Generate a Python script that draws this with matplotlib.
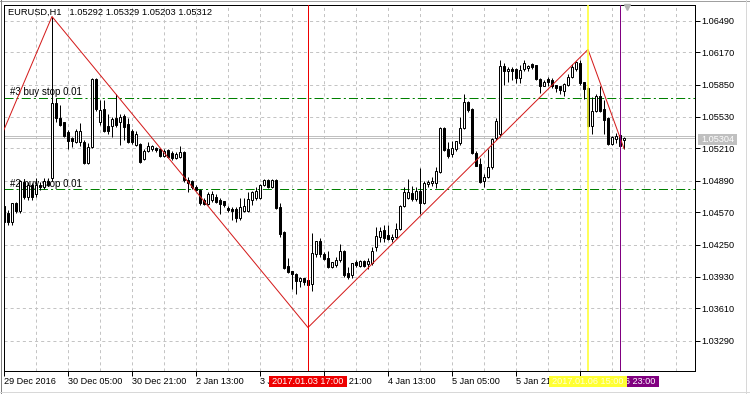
import matplotlib
matplotlib.use("Agg")
import matplotlib.pyplot as plt
from matplotlib.patches import Rectangle
from matplotlib.transforms import blended_transform_factory as btf
import numpy as np

plt.rcParams['font.family'] = ['Liberation Sans', 'DejaVu Sans']
plt.rcParams['lines.scale_dashes'] = False

# ---------------- data ----------------
header = "EURUSD,H1   1.05292 1.05329 1.05203 1.05312"

opens = [
    1.0463, 1.0456, 1.0448, 1.0466, 1.0458, 1.0487, 1.0473, 1.0484, 1.0475, 1.0484,
    1.0482, 1.0489, 1.0492, 1.0566, 1.0552, 1.0547, 1.0537, 1.0532, 1.0528, 1.0528,
    1.0528, 1.0507, 1.0522, 1.0590, 1.0548, 1.0560, 1.0543, 1.0543, 1.0552, 1.0548,
    1.0553, 1.0545, 1.0538, 1.0525, 1.0525, 1.0511, 1.0518, 1.0520, 1.0521, 1.0520,
    1.0514, 1.0519, 1.0516, 1.0512, 1.0513, 1.0517, 1.0490, 1.0488, 1.0482, 1.0479,
    1.0470, 1.0466, 1.0470, 1.0473, 1.0470, 1.0468, 1.0461, 1.0460, 1.0460, 1.0452,
    1.0458, 1.0458, 1.0470, 1.0472, 1.0472, 1.0484, 1.0489, 1.0482, 1.0489, 1.0462,
    1.0437, 1.0403, 1.0398, 1.0395, 1.0389, 1.0392, 1.0389, 1.0386, 1.0415, 1.0428,
    1.0415, 1.0411, 1.0402, 1.0405, 1.0410, 1.0418, 1.0396, 1.0394, 1.0407, 1.0403,
    1.0408, 1.0406, 1.0407, 1.0422, 1.0433, 1.0439, 1.0434, 1.0431, 1.0433, 1.0440,
    1.0463, 1.0472, 1.0476, 1.0471, 1.0478, 1.0467, 1.0486, 1.0487, 1.0487, 1.0497,
    1.0541, 1.0520, 1.0515, 1.0520, 1.0527, 1.0541, 1.0567, 1.0560, 1.0516, 1.0505,
    1.0489, 1.0493, 1.0502, 1.0532, 1.0535, 1.0603, 1.0598, 1.0600, 1.0600, 1.0592,
    1.0600, 1.0601, 1.0605, 1.0604, 1.0591, 1.0584, 1.0591, 1.0589, 1.0584, 1.0583,
    1.0578, 1.0585, 1.0593, 1.0600, 1.0607, 1.0587, 1.0581, 1.0544, 1.0558, 1.0573,
    1.0560, 1.0552, 1.0526, 1.0531, 1.0534, 1.05292,
]
highs = [
    1.0472, 1.0459, 1.0467, 1.0468, 1.0490, 1.0490, 1.0488, 1.0487, 1.0492, 1.0488,
    1.0492, 1.0492, 1.0653, 1.0572, 1.0565, 1.0548, 1.0539, 1.0533, 1.0540, 1.0547,
    1.0530, 1.0527, 1.0592, 1.0592, 1.0570, 1.0570, 1.0555, 1.0553, 1.0575, 1.0555,
    1.0555, 1.0552, 1.0540, 1.0538, 1.0527, 1.0520, 1.0528, 1.0525, 1.0522, 1.0521,
    1.0520, 1.0520, 1.0518, 1.0517, 1.0523, 1.0518, 1.0493, 1.0490, 1.0485, 1.0480,
    1.0472, 1.0477, 1.0478, 1.0475, 1.0472, 1.0468, 1.0463, 1.0462, 1.0462, 1.0472,
    1.0472, 1.0477, 1.0478, 1.0482, 1.0486, 1.0491, 1.0491, 1.0491, 1.0491, 1.0467,
    1.0438, 1.0412, 1.0398, 1.0396, 1.0393, 1.0392, 1.0390, 1.0436, 1.0429, 1.0432,
    1.0417, 1.0418, 1.0408, 1.0413, 1.0426, 1.0419, 1.0402, 1.0407, 1.0410, 1.0410,
    1.0410, 1.0412, 1.0422, 1.0442, 1.0442, 1.0445, 1.0445, 1.0435, 1.0447, 1.0465,
    1.0482, 1.0491, 1.0483, 1.0482, 1.0501, 1.0489, 1.0490, 1.0493, 1.0502, 1.0542,
    1.0542, 1.0528, 1.0529, 1.0529, 1.0553, 1.0575, 1.0569, 1.0561, 1.0518, 1.0512,
    1.0495, 1.0520, 1.0532, 1.0552, 1.0610, 1.0607, 1.0602, 1.0602, 1.0601, 1.0605,
    1.0610, 1.0605, 1.0607, 1.0605, 1.0592, 1.0590, 1.0593, 1.0592, 1.0585, 1.0584,
    1.0587, 1.0595, 1.0606, 1.0609, 1.0610, 1.0588, 1.0582, 1.0573, 1.0575, 1.0584,
    1.0570, 1.0553, 1.0534, 1.0536, 1.0535, 1.05329,
]
lows = [
    1.0445, 1.0445, 1.0445, 1.0456, 1.0456, 1.0471, 1.0470, 1.0470, 1.0473, 1.0479,
    1.0480, 1.0483, 1.0489, 1.0548, 1.0543, 1.0533, 1.0520, 1.0522, 1.0527, 1.0523,
    1.0506, 1.0506, 1.0521, 1.0558, 1.0545, 1.0537, 1.0535, 1.0533, 1.0542, 1.0525,
    1.0530, 1.0527, 1.0526, 1.0523, 1.0507, 1.0510, 1.0517, 1.0518, 1.0517, 1.0513,
    1.0513, 1.0512, 1.0510, 1.0511, 1.0512, 1.0488, 1.0477, 1.0480, 1.0478, 1.0465,
    1.0464, 1.0464, 1.0468, 1.0467, 1.0455, 1.0462, 1.0457, 1.0450, 1.0448, 1.0450,
    1.0457, 1.0457, 1.0465, 1.0470, 1.0471, 1.0483, 1.0481, 1.0481, 1.0460, 1.0433,
    1.0400, 1.0396, 1.0380, 1.0375, 1.0382, 1.0385, 1.0372, 1.0378, 1.0413, 1.0413,
    1.0410, 1.0401, 1.0401, 1.0402, 1.0408, 1.0393, 1.0391, 1.0392, 1.0402, 1.0402,
    1.0402, 1.0400, 1.0405, 1.0418, 1.0428, 1.0428, 1.0430, 1.0428, 1.0432, 1.0439,
    1.0462, 1.0471, 1.0469, 1.0469, 1.0455, 1.0466, 1.0482, 1.0483, 1.0481, 1.0496,
    1.0518, 1.0512, 1.0513, 1.0518, 1.0525, 1.0540, 1.0557, 1.0515, 1.0503, 1.0487,
    1.0482, 1.0492, 1.0500, 1.0530, 1.0533, 1.0585, 1.0588, 1.0590, 1.0587, 1.0587,
    1.0598, 1.0598, 1.0600, 1.0590, 1.0576, 1.0583, 1.0583, 1.0581, 1.0577, 1.0575,
    1.0574, 1.0583, 1.0592, 1.0598, 1.0585, 1.0571, 1.0542, 1.0535, 1.0557, 1.0557,
    1.0535, 1.0525, 1.0525, 1.0527, 1.0522, 1.05203,
]
closes = [
    1.0448, 1.0448, 1.0466, 1.0458, 1.0488, 1.0473, 1.0484, 1.0473, 1.0484, 1.0482,
    1.0488, 1.0485, 1.0566, 1.0552, 1.0545, 1.0534, 1.0529, 1.0529, 1.0538, 1.0538,
    1.0507, 1.0522, 1.0590, 1.0560, 1.0559, 1.0538, 1.0538, 1.0550, 1.0545, 1.0553,
    1.0542, 1.0528, 1.0528, 1.0535, 1.0508, 1.0518, 1.0523, 1.0523, 1.0519, 1.0514,
    1.0518, 1.0513, 1.0512, 1.0515, 1.0517, 1.0490, 1.0487, 1.0482, 1.0479, 1.0467,
    1.0466, 1.0475, 1.0475, 1.0468, 1.0466, 1.0464, 1.0459, 1.0458, 1.0452, 1.0462,
    1.0463, 1.0470, 1.0477, 1.0478, 1.0484, 1.0489, 1.0482, 1.0489, 1.0461, 1.0435,
    1.0401, 1.0397, 1.0395, 1.0389, 1.0392, 1.0388, 1.0384, 1.0416, 1.0428, 1.0415,
    1.0411, 1.0402, 1.0407, 1.0410, 1.0418, 1.0394, 1.0393, 1.0406, 1.0404, 1.0408,
    1.0403, 1.0409, 1.0418, 1.0433, 1.0438, 1.0432, 1.0431, 1.0433, 1.0440, 1.0463,
    1.0477, 1.0477, 1.0471, 1.0478, 1.0467, 1.0487, 1.0488, 1.0489, 1.0498, 1.0541,
    1.0519, 1.0514, 1.0521, 1.0528, 1.0541, 1.0567, 1.0559, 1.0516, 1.0504, 1.0488,
    1.0493, 1.0502, 1.0530, 1.0548, 1.0603, 1.0598, 1.0600, 1.0598, 1.0592, 1.0599,
    1.0606, 1.0603, 1.0602, 1.0591, 1.0584, 1.0588, 1.0588, 1.0583, 1.0581, 1.0579,
    1.0585, 1.0593, 1.0602, 1.0607, 1.0587, 1.0580, 1.0543, 1.0558, 1.0573, 1.0558,
    1.0550, 1.0526, 1.0533, 1.0534, 1.0523, 1.05312,
]

time_label_bars = [0, 16, 32, 48, 64, 80, 96, 112, 128, 144]
time_labels = ["29 Dec 2016", "30 Dec 05:00", "30 Dec 21:00", "2 Jan 13:00",
               "3 Jan 05:00", "3 Jan 21:00", "4 Jan 13:00", "5 Jan 05:00",
               "5 Jan 21:00", "6 Jan 13:00"]
price_levels = [1.03290, 1.03610, 1.03930, 1.04250, 1.04570, 1.04890,
                1.05210, 1.05530, 1.05850, 1.06170, 1.06490]

zigzag_bars = [-2, 12, 76, 146, 155]
zigzag_prices = [1.0521, 1.0653, 1.0342, 1.0620, 1.0521]

order_levels = [1.0572, 1.0480]
order_labels = ["#3 buy stop 0.01", "#2 buy stop 0.01"]

vline_bars = [76, 154, 146]
vline_labels = ["2017.01.03 17:00", "2017.01.06 23:00", "2017.01.06 15:00"]
vline_colors = ["#ee0000", "#800080", "#ffff33"]
vline_text_colors = ["white", "white", "#ffffd8"]
vline_widths = [1.0, 1.0, 1.6]

bid_lines = [1.05312, 1.05332]
bid_label = "1.05304"

# ---------------- layout ----------------
W, H = 750, 394
fig = plt.figure(figsize=(W / 100, H / 100), dpi=100)
fig.patch.set_facecolor("white")
L, R, T, B = 4, 695, 4.5, 371
ax = fig.add_axes([L / W, (H - B) / H, (R - L) / W, (B - T) / H])
ax.set_facecolor("white")
n_visible = (R - L) / 4.0
ax.set_xlim(0, n_visible)
ax.set_ylim(1.02985, 1.06650)

PX = 0.72  # one pixel in points
FS = 6.6

for s in ax.spines.values():
    s.set_color("black")
    s.set_linewidth(PX)

# ticks
ax.yaxis.tick_right()
ax.set_yticks(price_levels)
ax.set_yticklabels([f"{v:.5f}" for v in price_levels])
ax.set_xticks(time_label_bars)
ax.set_xticklabels(time_labels, ha="left")
ax.set_xticks(np.arange(8, n_visible, 8), minor=True)
ax.tick_params(axis="both", which="major", length=5 * PX, width=PX,
               labelsize=FS, color="black", labelcolor="black", direction="out")
ax.tick_params(axis="x", which="major", pad=1.0)
ax.tick_params(axis="y", which="major", pad=1.2)
ax.tick_params(which="minor", length=0)

grid_kw = dict(color="#c4c4c4", linestyle=(0, (2.2, 2.2)), linewidth=PX)
ax.grid(True, which="both", axis="x", **grid_kw)
ax.grid(True, which="major", axis="y", **grid_kw)
ax.set_axisbelow(True)

# bid lines
for p in bid_lines:
    ax.axhline(p, color="#c0c0c0", lw=PX, zorder=1.5)

# pending order lines + labels
for lvl, txt in zip(order_levels, order_labels):
    ax.axhline(lvl, color="#008000", lw=PX,
               linestyle=(0, (6.5, 2.2, 1.5, 2.2)), zorder=1.6)
    ax.text(1.5, lvl + 0.00028, txt, fontsize=7.0, color="black",
            ha="left", va="baseline", zorder=1.7)

# candles
x = np.arange(len(opens))
o = np.array(opens); h = np.array(highs); l = np.array(lows); c = np.array(closes)
ax.vlines(x, l, h, color="black", lw=PX, zorder=3)
up = c >= o
bottom = np.minimum(o, c)
height = np.maximum(np.abs(c - o), 0.00003)
ax.bar(x[up], height[up], bottom=bottom[up], width=0.5, color="white",
       edgecolor="black", linewidth=PX, zorder=4)
ax.bar(x[~up], height[~up], bottom=bottom[~up], width=0.5, color="black",
       edgecolor="black", linewidth=PX, zorder=4)

# zigzag
ax.plot(zigzag_bars, zigzag_prices, color="#d41a1a", lw=PX, zorder=5)

# vertical lines with labelled boxes under the time axis
bt = btf(ax.transData, ax.transAxes)
box_top = (B - 376) / (B - T)
box_bot = (B - 387) / (B - T)
for xb, lab, col, tcol, lw in zip(vline_bars, vline_labels, vline_colors,
                                  vline_text_colors, vline_widths):
    ax.axvline(xb, color=col, lw=lw * PX, zorder=6)
for k, (xb, lab, col, tcol) in enumerate(zip(vline_bars, vline_labels,
                                             vline_colors, vline_text_colors)):
    rect = Rectangle((xb - 9.7, box_bot), 19.4, box_top - box_bot,
                     transform=bt, facecolor=col, edgecolor="none",
                     clip_on=False, zorder=10 + 2 * k)
    ax.add_patch(rect)
    ax.text(xb, (box_top + box_bot) / 2, lab, transform=bt, fontsize=6.6,
            color=tcol, ha="center", va="center", clip_on=False,
            zorder=11 + 2 * k)

# current price label on the price axis
bt2 = btf(ax.transAxes, ax.transData)
bx0 = (698 - L) / (R - L)
bw = 39 / (R - L)
ax.add_patch(Rectangle((bx0, bid_lines[0] - 0.00066), bw, 0.00112,
                       transform=bt2, facecolor="#c0c0c0", edgecolor="none",
                       clip_on=False, zorder=10))
ax.text(bx0 + bw / 2, bid_lines[0] - 0.0001, bid_label, transform=bt2,
        fontsize=FS, color="white", ha="center", va="center",
        clip_on=False, zorder=11)

# header
ax.text((8 - L) / (R - L), (B - 12) / (B - T), header, transform=ax.transAxes,
        fontsize=6.7, color="black", ha="left", va="center", zorder=12)

# chart-shift marker
ax.plot([(627 - L) / (R - L)], [(B - 7) / (B - T)], marker="v", ms=5,
        color="#b4b4b4", transform=ax.transAxes, clip_on=False, zorder=12)

# window border
fig.add_artist(plt.Line2D([0, 1], [1 - 0.5 / H, 1 - 0.5 / H],
                          transform=fig.transFigure, color="#a0a0a0", lw=PX))
fig.add_artist(plt.Line2D([0.5 / W, 0.5 / W], [0, 1],
                          transform=fig.transFigure, color="#808080", lw=PX))
fig.add_artist(plt.Line2D([745.5 / W, 745.5 / W], [0, 1],
                          transform=fig.transFigure, color="#d8d8d8", lw=PX))
fig.add_artist(plt.Line2D([0, 1], [1 - 391.5 / H, 1 - 391.5 / H],
                          transform=fig.transFigure, color="#d8d8d8", lw=PX))

fig.savefig("out.png", dpi=100, facecolor="white")
